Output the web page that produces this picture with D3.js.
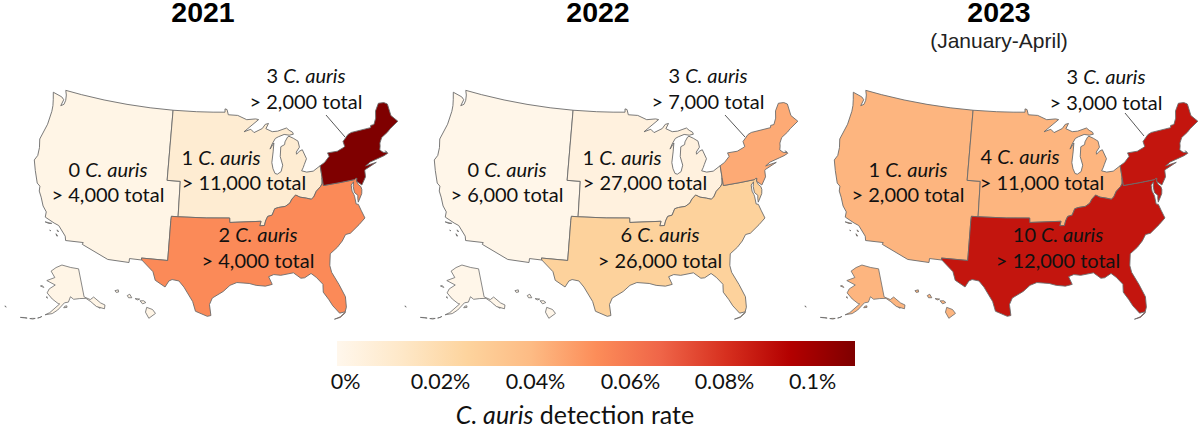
<!DOCTYPE html>
<html><head><meta charset="utf-8">
<style>html,body{margin:0;padding:0;background:#fff}svg{display:block}</style>
<script src="https://cdn.jsdelivr.net/npm/d3@7"></script></head>
<body><svg id="c" width="1200" height="426"></svg>
<script>
// ---------- DATA ----------
const years = ["2021","2022","2023"];
const regions = ["West","Midwest","South","Northeast"];
const caseCounts = [[0,1,2,3],[0,1,6,3],[1,4,10,3]];
const totals = [["> 4,000","> 11,000","> 4,000","> 2,000"],["> 6,000","> 27,000","> 26,000","> 7,000"],["> 2,000","> 11,000","> 12,000","> 3,000"]];
const rates = [[0.002,0.009,0.051,0.1],[0.001,0.005,0.026,0.042],[0.039,0.039,0.082,0.082]];
const legendTicks = [0,0.02,0.04,0.06,0.08,0.1];
// region outlines, lon/lat
const west = [[-104.05,49],[-108,49],[-112,49],[-116,49],[-120,49],[-122.76,49],[-122.45,48.5],[-122.3,47.9],[-122.4,47.4],[-122.85,47.15],[-122.65,47.9],[-123.1,48.15],[-124.7,48.38],[-124.35,47.6],[-124.1,46.9],[-124.0,46.25],[-124.05,44.7],[-124.55,42.84],[-124.2,41.9],[-124.1,41],[-124.4,40.4],[-123.8,39.3],[-123.0,38.0],[-122.5,37.75],[-122.4,37.2],[-121.9,36.6],[-121.3,35.7],[-120.65,35.15],[-120.6,34.55],[-119.2,34.15],[-118.5,34.0],[-117.3,33.0],[-117.12,32.53],[-114.72,32.72],[-114.8,32.5],[-111.07,31.33],[-108.2,31.33],[-108.2,31.78],[-106.53,31.78],[-106.62,32],[-103.06,32],[-103.04,36.5],[-103,37],[-102.04,37],[-102.05,41],[-104.05,41],[-104.05,45]];
const midwest = [[-104.05,49],[-100,49],[-97.2,49],[-95.15,49],[-95.15,49.38],[-94.8,49.3],[-94.6,48.7],[-93,48.6],[-91.5,48.07],[-90,48.1],[-89.5,48],[-92.05,46.7],[-90.9,46.95],[-90.4,46.55],[-89,46.95],[-88.45,47.4],[-87.9,47.47],[-88.4,46.9],[-87.4,46.5],[-86.5,46.5],[-85,46.75],[-84.6,46.45],[-84.1,46.2],[-84,45.95],[-84.7,45.9],[-85.5,46.05],[-86.5,45.85],[-87,45.7],[-87.6,45.1],[-88,44.55],[-87.3,45.2],[-87.55,44.2],[-87.9,43],[-87.8,42.3],[-87.55,41.75],[-87.2,41.65],[-86.6,41.9],[-86.25,42.6],[-86.5,43.6],[-86.25,44.7],[-85.6,44.9],[-85.5,45.2],[-85,45.7],[-84.75,45.78],[-84.1,45.5],[-83.4,45.1],[-83.3,44.4],[-83.9,43.9],[-83.9,43.65],[-83.4,43.95],[-82.9,44.07],[-82.45,43],[-82.9,42.4],[-83.15,42.05],[-83.45,41.72],[-82.7,41.5],[-81.7,41.5],[-80.52,41.98],[-80.52,40.64],[-80.65,40],[-80.9,39.7],[-81.7,39.2],[-82.2,38.6],[-82.6,38.4],[-83.3,38.6],[-84.2,38.8],[-84.8,39.1],[-85.4,38.7],[-85.8,38.25],[-86.5,37.95],[-87.5,37.9],[-88.05,37.8],[-88.5,37.1],[-89.15,37],[-89.5,36.5],[-89.7,36],[-90.37,36],[-90.15,36.5],[-94.62,36.5],[-94.62,37],[-98,37],[-102.04,37],[-102.05,41],[-104.05,41],[-104.05,45]];
const south = [[-103,37],[-102.04,37],[-98,37],[-94.62,37],[-94.62,36.5],[-90.15,36.5],[-90.37,36],[-89.7,36],[-89.5,36.5],[-89.15,37],[-88.5,37.1],[-88.05,37.8],[-87.5,37.9],[-86.5,37.95],[-85.8,38.25],[-85.4,38.7],[-84.8,39.1],[-84.2,38.8],[-83.3,38.6],[-82.6,38.4],[-82.2,38.6],[-81.7,39.2],[-80.9,39.7],[-80.65,40],[-80.52,40.64],[-80.52,39.72],[-78,39.72],[-75.79,39.72],[-75.6,39.83],[-75.4,39.8],[-75.55,39.5],[-75.4,39.1],[-75.1,38.8],[-75.05,38.45],[-75.2,38],[-75.95,37.15],[-75.9,37.6],[-75.8,37.9],[-76.2,38.3],[-76.2,39],[-76,39.5],[-76.45,39.2],[-76.5,38.5],[-76.35,38.1],[-76.3,37.9],[-76.3,37],[-76,36.9],[-75.8,36.2],[-75.5,35.25],[-76.5,34.65],[-77.9,33.9],[-78.6,33.85],[-79.2,33.2],[-80,32.6],[-81.1,32],[-81.4,30.7],[-81.3,29.9],[-80.6,28.4],[-80.05,26.9],[-80.15,25.7],[-80.4,25.2],[-81.1,25.15],[-81.8,26.1],[-82.2,26.9],[-82.75,27.8],[-82.65,28.7],[-83.4,29.6],[-84,30.1],[-84.9,29.7],[-85.4,29.7],[-86.3,30.4],[-88,30.25],[-88.9,30.4],[-89.6,30.2],[-89.2,29.3],[-90.1,29.15],[-91.3,29.3],[-92.2,29.55],[-93.8,29.7],[-94.7,29.4],[-95.6,28.7],[-97,27.95],[-97.35,27.2],[-97.15,25.95],[-97.6,25.85],[-99.1,26.4],[-99.5,27.5],[-100.7,29.1],[-101.4,29.77],[-102.3,29.88],[-102.7,29.7],[-103.15,28.98],[-104.5,29.65],[-104.9,30.6],[-106.53,31.78],[-106.62,32],[-103.06,32],[-103.04,36.5]];
const northeast = [[-80.52,41.98],[-79.76,42.27],[-78.9,42.85],[-79.05,43.27],[-77.5,43.25],[-76.5,43.5],[-76.2,43.6],[-76.3,44.2],[-75.3,44.85],[-74.7,45],[-71.5,45.01],[-71.4,45.25],[-70.85,45.25],[-70.3,45.9],[-70,46.7],[-69.2,47.45],[-68.3,47.35],[-67.8,47.07],[-67.8,45.7],[-67,44.85],[-68.5,44.3],[-69.1,44],[-70.2,43.6],[-70.7,43.05],[-70.8,42.7],[-71,42.3],[-70.6,41.95],[-70.05,41.8],[-70.2,42.05],[-69.95,41.7],[-70.6,41.55],[-71.4,41.45],[-72.9,41.25],[-73.7,40.95],[-72,41.05],[-73.9,40.55],[-74,40.45],[-74.1,39.75],[-74.9,38.95],[-75.55,39.5],[-75.4,39.8],[-75.6,39.83],[-75.79,39.72],[-78,39.72],[-80.52,39.72],[-80.52,40.64]];
const alaska = [[-141,69.6],[-148,70.4],[-156.5,71.3],[-162,70.3],[-166,68.9],[-162,67],[-168,65.6],[-161,64.6],[-165,63.1],[-166,61.7],[-162,60],[-158,58.7],[-157,58.6],[-162.5,55.5],[-164.9,54.6],[-161,55.3],[-158,56.6],[-154,59],[-151.5,59.2],[-150,60.9],[-148,60],[-144,60],[-140,59.7],[-137.5,58.3],[-135,56.3],[-131,54.8],[-130,55.9],[-132,57],[-135,59.5],[-137.5,59],[-141,60.3]];
const akIslands = [[[-166.5,53.9],[-167.8,53.3],[-168.6,53.1],[-167,53.6]],[[-169.8,52.8],[-171,52.4],[-172.6,52.3],[-171.2,52.6]],[[-174,52.2],[-176,51.9],[-177.5,51.7],[-175.5,52.1]],[[172.5,53],[173.4,52.8],[173.0,53.05]],[[-154.5,57.4],[-152.5,57.5],[-152.5,58],[-153.8,57.9]],[[-135.9,57.2],[-134.4,56.2],[-133.3,55.4],[-132.8,56],[-134.5,57.8]],[[-166.1,60.3],[-165.2,60],[-165.6,60.5]],[[-171.7,63.4],[-169,63.2],[-170.5,63.7]]];
const hawaii = [[[-155.9,20.2],[-155.2,19.95],[-154.85,19.5],[-155.65,18.95],[-156.05,19.65]],[[-156.7,20.95],[-156.25,20.95],[-156,20.75],[-156.4,20.6]],[[-158.25,21.55],[-157.95,21.7],[-157.7,21.3],[-158.1,21.3]],[[-159.75,22.1],[-159.35,22.2],[-159.3,21.95],[-159.6,21.9]],[[-157.3,21.2],[-156.75,21.15],[-157,21.05]]];
const westIslands = [[[-120.45,34.03],[-119.5,34.05],[-119.9,33.95]],[[-118.6,33.48],[-118.3,33.35],[-118.45,33.32]],[[-118.6,33.03],[-118.3,32.82],[-118.45,32.8]],[[-119.55,33.28],[-119.4,33.22],[-119.5,33.2]]];
const southIslands = [[[-80.35,25.2],[-81.1,24.72],[-81.85,24.55],[-81.1,24.65],[-80.45,25.05]]];
const outlines = [west, midwest, south, northeast];

// ---------- LAYOUT ----------
const svg = d3.select("#c");
const sans = "'Lato',sans-serif";
const color = d3.scaleLinear().domain(d3.schemeOrRd[9].map((c,i)=>i*0.0125)).range(d3.schemeOrRd[9]).clamp(true);
const panelDX = [0,400,800];
const panelTitleX = [203,598,999];
const labelAt = [
 [[[108,177],[108,202]],[[221,165],[244,190]],[[258,242],[258,268]],[[306,83],[306,109]]],
 [[[507,177],[507,202]],[[622,165],[645,190]],[[660,242],[660,268]],[[708,83],[708,109]]],
 [[[908,177],[908,202]],[[1020,164],[1042,190]],[[1058,242],[1058,268]],[[1106,84],[1106,110]]]
];
const leader = [[326,115,345,137],[725,115,745,137],[1125,113,1144,136]];

years.forEach((yr,p)=>{
  const proj = d3.geoAlbersUsa().scale(504).translate([216+panelDX[p],203]);
  const line = d3.line().x(d=>d[0]).y(d=>d[1]);
  const path = pts => line(pts.map(d=>proj(d)).filter(Boolean))+"Z";
  const g = svg.append("g");
  const edge = "#6b6b6b";
  g.selectAll("path.region").data(regions).join("path").attr("class","region")
    .attr("d",(r,i)=>path(outlines[i])).attr("fill",(r,i)=>color(rates[p][i]))
    .attr("stroke",edge).attr("stroke-width",0.9).attr("stroke-linejoin","round");
  g.selectAll("path.ak").data(akIslands.concat(hawaii,westIslands)).join("path").attr("class","ak").attr("d",path)
    .attr("fill",color(rates[p][0])).attr("stroke",edge).attr("stroke-width",0.8);
  g.selectAll("path.se").data(southIslands).join("path").attr("class","se").attr("d",path)
    .attr("fill",color(rates[p][2])).attr("stroke",edge).attr("stroke-width",0.8);
  g.append("path").attr("d",path(alaska)).attr("fill",color(rates[p][0])).attr("stroke",edge).attr("stroke-width",0.8);
  const L = leader[p];
  g.append("line").attr("x1",L[0]).attr("y1",L[1]).attr("x2",L[2]).attr("y2",L[3]).attr("stroke","#444").attr("stroke-width",0.9);
  regions.forEach((r,i)=>{
    const [a,b] = labelAt[p][i];
    const t1 = g.append("text").attr("x",a[0]).attr("y",a[1]).attr("text-anchor","middle").attr("font-family",sans).attr("font-size",20).attr("fill","#111");
    t1.append("tspan").text(caseCounts[p][i]+" ");
    t1.append("tspan").attr("font-style","italic").text("C. auris");
    g.append("text").attr("x",b[0]).attr("y",b[1]).attr("text-anchor","middle").attr("font-family",sans).attr("font-size",20).attr("fill","#111")
      .text(totals[p][i]+" total");
  });
  svg.append("text").attr("x",panelTitleX[p]).attr("y",22).attr("text-anchor","middle")
    .attr("font-family","'Liberation Sans',Arial,sans-serif").attr("font-weight","bold").attr("font-size",28.5).text(yr);
});
svg.append("text").attr("x",999).attr("y",48).attr("text-anchor","middle")
  .attr("font-family","'Liberation Sans',Arial,sans-serif").attr("font-size",21).attr("fill","#222").text("(January-April)");

// legend
const defs = svg.append("defs");
const grad = defs.append("linearGradient").attr("id","lg");
color.domain().forEach(v=>grad.append("stop").attr("offset",v/0.1).attr("stop-color",color(v)));
const barX = d3.scaleLinear().domain([0,0.1]).range([337,855]);
svg.append("rect").attr("x",barX(0)).attr("y",341).attr("width",barX(0.1)-barX(0)).attr("height",25).attr("fill","url(#lg)");
const tickX = d3.scaleLinear().domain(legendTicks).range([345,440,535,630,724,812]);
const axis = d3.axisBottom(tickX).tickValues(legendTicks).tickSize(0).tickFormat(d=>d+"%");
const ag = svg.append("g").attr("transform","translate(0,372)").call(axis);
ag.select(".domain").remove();
ag.selectAll("text").attr("font-family",sans).attr("font-size",21.5).attr("fill","#111").attr("dy","0.71em").attr("y",2);
const lt = svg.append("text").attr("x",575).attr("y",424).attr("text-anchor","middle").attr("font-family",sans).attr("font-size",25).attr("fill","#111");
lt.append("tspan").attr("font-style","italic").text("C. auris");
lt.append("tspan").text(" detection rate");
</script></body></html>
